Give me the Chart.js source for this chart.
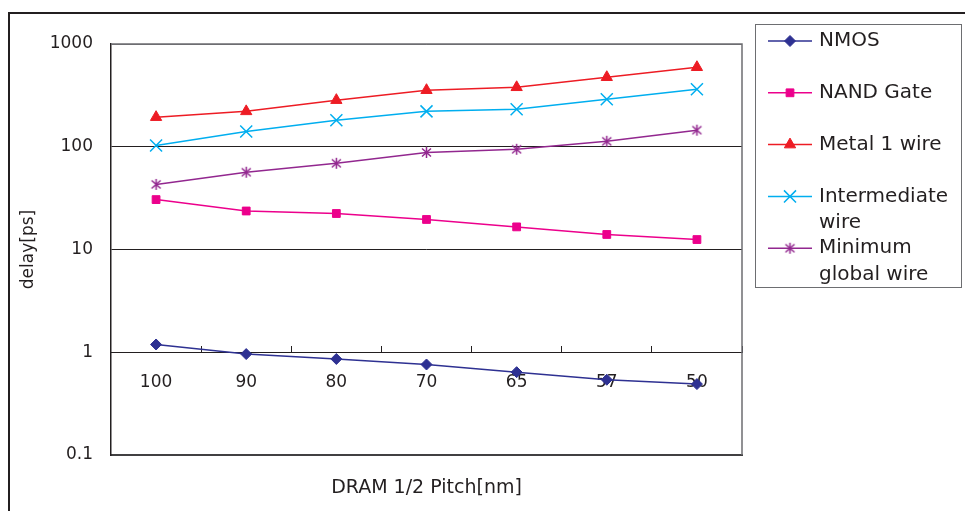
<!DOCTYPE html>
<html>
<head>
<meta charset="utf-8">
<script src="https://cdn.jsdelivr.net/npm/chart.js@4/dist/chart.umd.min.js"></script>
<style>
  html, body { margin: 0; padding: 0; background: #fff; overflow: hidden; }
  #wrap { position: relative; width: 965px; height: 511px; }
  #frame { position: absolute; left: 8px; top: 12px; width: 1000px; height: 600px;
           border-left: 2px solid #231f20; border-top: 2px solid #231f20; }
  #chart { position: absolute; left: 0; top: 0; }
</style>
</head>
<body>
<div id="wrap">
  <div id="frame"></div>
  <canvas id="chart" width="965" height="511"></canvas>
</div>
<script>
// DRAM half pitch, nm
const pitches = ['100', '90', '80', '70', '65', '57', '50'];

// delay [ps]
const nmos = [1.19, 0.96, 0.86, 0.76, 0.64, 0.54, 0.49];
const nandGate = [30.6, 23.7, 22.4, 19.6, 16.6, 14.0, 12.5];
const metal1 = [194, 221, 284, 355, 379, 475, 594];
const intermediate = [103, 141, 181, 221, 232, 290, 363];
const minGlobal = [43, 56.5, 69, 88, 94.5, 113, 145];

const yTicks = [0.1, 1, 10, 100, 1000];
const legendLines = [['NMOS'], ['NAND Gate'], ['Metal 1 wire'], ['Intermediate', 'wire'], ['Minimum', 'global wire']];

Chart.defaults.font.family = 'DejaVu Sans';
Chart.defaults.color = '#231f20';

// excel-style 6 arm asterisk marker
function asterisk(color) {
    const cv = document.createElement('canvas');
    cv.width = 13; cv.height = 13;
    const g = cv.getContext('2d');
    g.strokeStyle = color;
    g.lineWidth = 1.5;
    g.beginPath();
    g.moveTo(6.5, 1); g.lineTo(6.5, 12);
    g.moveTo(2, 2.5); g.lineTo(11, 10.5);
    g.moveTo(11, 2.5); g.lineTo(2, 10.5);
    g.stroke();
    return cv;
}

function series(i, data, color, style, radius, bw) {
    return {
        label: legendLines[i].join(' '),
        data: data,
        borderColor: color,
        backgroundColor: color,
        borderWidth: 1.5,
        pointStyle: style,
        pointRadius: radius,
        pointHoverRadius: radius,
        pointBackgroundColor: color,
        pointBorderColor: color,
        pointBorderWidth: bw,
        fill: false,
        tension: 0
    };
}

// top + right edge of the plot box
const plotFrame = {
    id: 'plotFrame',
    beforeDatasetsDraw(chart) {
        const a = chart.chartArea, c = chart.ctx;
        c.save();
        c.strokeStyle = '#6d6e71';
        c.lineWidth = 1.5;
        c.beginPath();
        c.moveTo(a.left, a.top);
        c.lineTo(a.right, a.top);
        c.lineTo(a.right, a.bottom);
        c.stroke();
        c.restore();
    }
};

// boxed legend on the right, with line + marker swatches
const sideLegend = {
    id: 'sideLegend',
    afterDraw(chart) {
        const c = chart.ctx;
        c.save();
        c.strokeStyle = '#6d6e71';
        c.lineWidth = 1;
        c.strokeRect(755.5, 24.5, 206, 263);
        c.font = '20px "DejaVu Sans"';
        c.textBaseline = 'middle';
        chart.data.datasets.forEach((ds, i) => {
            const y = 41 + i * 51.8;
            c.strokeStyle = ds.borderColor;
            c.fillStyle = ds.borderColor;
            c.lineWidth = 1.5;
            c.beginPath();
            c.moveTo(768, y);
            c.lineTo(812, y);
            c.stroke();
            c.lineWidth = ds.pointBorderWidth;
            Chart.helpers.drawPoint(c, {
                pointStyle: ds.pointStyle, rotation: 0,
                radius: ds.pointRadius, borderWidth: ds.pointBorderWidth
            }, 790, y);
            c.fillStyle = '#231f20';
            legendLines[i].forEach((t, j) => c.fillText(t, 819, y + j * 26.5));
        });
        c.restore();
    }
};

new Chart(document.getElementById('chart'), {
    type: 'line',
    data: {
        labels: pitches,
        datasets: [
            series(0, nmos, '#2e3192', 'rectRot', 5.5, 1),
            series(1, nandGate, '#ec008c', 'rect', 5.5, 1),
            series(2, metal1, '#ed1c24', 'triangle', 6.5, 1),
            series(3, intermediate, '#00aeef', 'crossRot', 8.5, 1.5),
            series(4, minGlobal, '#92278f', asterisk('#92278f'), 6.5, 1.5)
        ]
    },
    options: {
        responsive: false,
        animation: false,
        events: [],
        layout: { padding: { left: 0, top: 44, right: 223, bottom: 0 } },
        plugins: { legend: { display: false }, tooltip: { enabled: false } },
        scales: {
            x: {
                type: 'category',
                position: 'bottom',
                offset: true,
                ticks: { display: false },
                grid: { display: false },
                border: { display: true, color: '#414042', width: 2 },
                title: {
                    display: true, text: 'DRAM 1/2 Pitch[nm]',
                    font: { size: 19 }, padding: { top: 0, bottom: 11.5 }
                },
                afterFit(s) { s.height = 56; }
            },
            x2: {
                type: 'category',
                position: { y: 1 },
                offset: true,
                ticks: { font: { size: 17 }, padding: 27, maxRotation: 0 },
                grid: {
                    display: true, drawOnChartArea: false, drawTicks: true,
                    tickLength: -7, offset: true, color: '#231f20'
                },
                border: { display: true, color: '#231f20', width: 1 }
            },
            y: {
                type: 'logarithmic',
                min: 0.1,
                max: 1000,
                afterBuildTicks(s) { s.ticks = yTicks.map(v => ({ value: v })); },
                ticks: {
                    font: { size: 17 }, padding: 18,
                    callback: v => String(v)
                },
                grid: {
                    drawTicks: false,
                    color: c => c.tick && c.tick.value === 1000 ? '#6d6e71' : '#231f20'
                },
                border: { display: true, color: '#231f20', width: 1.5 },
                title: {
                    display: true, text: 'delay[ps]',
                    font: { size: 17 }, padding: { top: 18, bottom: 0 }
                },
                afterFit(s) { s.width = 111; }
            }
        }
    },
    plugins: [plotFrame, sideLegend]
});
</script>
</body>
</html>
